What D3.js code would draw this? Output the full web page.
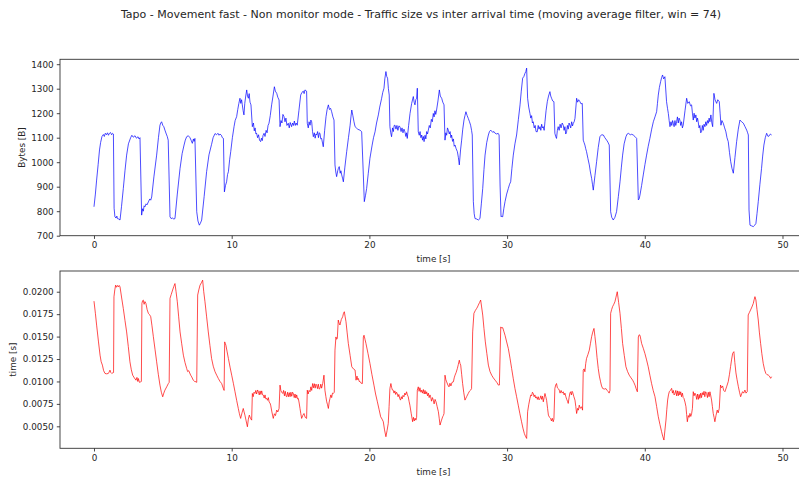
<!DOCTYPE html>
<html>
<head>
<meta charset="utf-8">
<script src="https://cdn.jsdelivr.net/npm/d3@7"></script>
<style>
  html, body { margin: 0; padding: 0; background: #fff; }
  svg { display: block; font-family: "DejaVu Sans", sans-serif; }
</style>
</head>
<body>
<svg id="chart" width="799" height="484"></svg>
<script>
// Moving-average traffic size: [time (s), bytes]
const bytesPoints = [[0.00,818],[0.10,870],[0.19,927],[0.30,990],[0.40,1050],[0.48,1080],[0.58,1105],[0.68,1113],[0.75,1105],[0.82,1118],[0.90,1112],[0.98,1120],[1.05,1110],[1.11,1117],[1.20,1121],[1.28,1112],[1.35,1118],[1.41,1115],[1.46,812],[1.52,777],[1.60,772],[1.66,780],[1.70,770],[1.80,768],[1.89,764],[2.00,820],[2.13,893],[2.25,965],[2.37,1029],[2.50,1075],[2.66,1100],[2.75,1110],[2.85,1102],[2.98,1108],[3.08,1098],[3.20,1104],[3.27,1095],[3.34,1100],[3.46,784],[3.52,810],[3.58,800],[3.64,822],[3.70,818],[3.78,830],[3.85,826],[3.95,838],[4.05,850],[4.12,845],[4.19,858],[4.35,940],[4.55,1029],[4.68,1100],[4.79,1151],[4.85,1160],[4.91,1165],[5.00,1150],[5.07,1145],[5.15,1131],[5.25,1115],[5.32,1105],[5.39,1090],[5.52,777],[5.60,770],[5.70,772],[5.80,768],[5.88,770],[6.05,870],[6.25,975],[6.40,1035],[6.54,1070],[6.63,1090],[6.73,1104],[6.85,1108],[6.97,1100],[7.05,1090],[7.14,1077],[7.22,1095],[7.27,1085],[7.33,1097],[7.46,798],[7.55,760],[7.65,743],[7.72,750],[7.82,764],[8.00,860],[8.18,962],[8.35,1030],[8.54,1073],[8.65,1100],[8.79,1117],[8.90,1112],[9.00,1118],[9.08,1110],[9.15,1115],[9.25,1110],[9.32,1100],[9.40,1097],[9.47,879],[9.55,905],[9.63,920],[9.70,950],[9.76,961],[9.85,1010],[9.93,1043],[10.05,1100],[10.17,1145],[10.25,1170],[10.36,1186],[10.44,1215],[10.52,1240],[10.60,1261],[10.66,1240],[10.72,1255],[10.77,1234],[10.83,1210],[10.89,1193],[10.95,1240],[11.02,1270],[11.09,1295],[11.15,1270],[11.21,1261],[11.27,1280],[11.33,1245],[11.40,1234],[11.50,1145],[11.58,1160],[11.64,1128],[11.70,1140],[11.76,1115],[11.81,1118],[11.88,1100],[11.95,1112],[12.02,1090],[12.10,1084],[12.16,1098],[12.22,1088],[12.28,1110],[12.35,1118],[12.42,1105],[12.50,1130],[12.57,1120],[12.64,1150],[12.71,1159],[12.80,1190],[12.90,1234],[13.00,1270],[13.10,1308],[13.17,1290],[13.27,1281],[13.35,1265],[13.44,1254],[13.51,1145],[13.58,1170],[13.65,1160],[13.72,1195],[13.80,1186],[13.87,1165],[13.94,1180],[14.01,1150],[14.11,1159],[14.18,1140],[14.25,1162],[14.35,1145],[14.42,1160],[14.49,1150],[14.55,1168],[14.62,1150],[14.68,1160],[14.76,1151],[14.88,1210],[15.01,1274],[15.10,1285],[15.20,1290],[15.26,1280],[15.32,1295],[15.44,1290],[15.49,1159],[15.56,1140],[15.62,1165],[15.69,1151],[15.75,1172],[15.81,1165],[15.87,1125],[15.93,1104],[16.00,1120],[16.06,1098],[16.12,1115],[16.17,1111],[16.24,1125],[16.30,1100],[16.36,1120],[16.41,1118],[16.47,1095],[16.53,1097],[16.65,1063],[16.75,1130],[16.85,1186],[16.93,1215],[17.02,1234],[17.10,1215],[17.18,1220],[17.26,1206],[17.35,1185],[17.43,1172],[17.50,989],[17.56,960],[17.62,941],[17.70,965],[17.75,975],[17.81,982],[17.88,955],[17.93,965],[17.99,948],[18.05,935],[18.11,920],[18.22,980],[18.35,1043],[18.48,1100],[18.60,1151],[18.66,1185],[18.72,1213],[18.80,1190],[18.88,1165],[18.96,1145],[19.05,1140],[19.15,1135],[19.25,1132],[19.32,1131],[19.38,1128],[19.44,1124],[19.56,948],[19.63,839],[19.72,865],[19.80,893],[19.92,955],[20.04,1016],[20.20,1070],[20.30,1100],[20.41,1124],[20.52,1160],[20.65,1193],[20.75,1225],[20.89,1261],[20.97,1285],[21.06,1302],[21.12,1340],[21.20,1370],[21.26,1350],[21.32,1343],[21.38,1300],[21.44,1274],[21.49,1145],[21.55,1120],[21.61,1104],[21.68,1140],[21.74,1125],[21.80,1150],[21.86,1151],[21.93,1135],[22.00,1150],[22.07,1130],[22.14,1148],[22.22,1145],[22.30,1125],[22.37,1140],[22.44,1120],[22.51,1135],[22.58,1124],[22.65,1105],[22.70,1120],[22.75,1097],[22.85,1150],[22.95,1199],[23.07,1240],[23.19,1268],[23.25,1245],[23.31,1234],[23.37,1255],[23.43,1261],[23.48,1302],[23.55,1124],[23.62,1110],[23.68,1125],[23.74,1100],[23.80,1111],[23.86,1090],[23.92,1105],[23.97,1084],[24.04,1110],[24.10,1095],[24.16,1125],[24.22,1115],[24.28,1131],[24.35,1150],[24.42,1140],[24.50,1175],[24.57,1165],[24.64,1199],[24.70,1185],[24.76,1210],[24.82,1195],[24.88,1213],[24.98,1250],[25.08,1295],[25.15,1270],[25.25,1261],[25.33,1245],[25.42,1234],[25.49,1090],[25.55,1120],[25.61,1110],[25.67,1140],[25.73,1131],[25.80,1115],[25.86,1125],[25.92,1100],[25.97,1111],[26.04,1085],[26.10,1095],[26.16,1065],[26.22,1070],[26.30,1055],[26.39,1043],[26.46,1020],[26.53,989],[26.62,1050],[26.70,1090],[26.78,1135],[26.87,1172],[26.94,1190],[27.01,1206],[27.10,1190],[27.18,1179],[27.27,1165],[27.35,1151],[27.42,1130],[27.47,1111],[27.55,839],[27.61,790],[27.67,770],[27.80,768],[27.91,764],[28.03,770],[28.13,830],[28.23,893],[28.32,970],[28.40,1029],[28.52,1080],[28.64,1111],[28.72,1125],[28.81,1131],[28.95,1122],[29.05,1125],[29.13,1118],[29.25,1115],[29.35,1118],[29.42,1111],[29.49,907],[29.56,777],[29.62,780],[29.68,777],[29.76,810],[29.85,839],[29.97,870],[30.09,893],[30.18,910],[30.26,920],[30.35,975],[30.45,1029],[30.57,1075],[30.69,1111],[30.82,1175],[30.94,1234],[31.03,1290],[31.13,1343],[31.22,1350],[31.30,1363],[31.36,1370],[31.42,1384],[31.49,1261],[31.57,1225],[31.66,1199],[31.72,1180],[31.78,1190],[31.84,1160],[31.90,1165],[31.97,1140],[32.04,1150],[32.10,1125],[32.19,1124],[32.26,1150],[32.32,1135],[32.39,1145],[32.45,1130],[32.51,1155],[32.57,1140],[32.63,1145],[32.69,1130],[32.75,1165],[32.83,1210],[32.92,1247],[33.01,1270],[33.11,1288],[33.17,1270],[33.23,1261],[33.31,1250],[33.40,1247],[33.47,1118],[33.53,1105],[33.59,1097],[33.65,1130],[33.71,1145],[33.78,1130],[33.85,1155],[33.92,1140],[34.00,1160],[34.08,1151],[34.14,1130],[34.20,1145],[34.26,1115],[34.32,1124],[34.38,1150],[34.44,1135],[34.50,1160],[34.56,1151],[34.62,1140],[34.69,1165],[34.75,1148],[34.81,1159],[34.87,1165],[34.93,1179],[35.05,1261],[35.12,1245],[35.20,1255],[35.29,1247],[35.37,1238],[35.46,1240],[35.53,1090],[35.59,1080],[35.65,1070],[35.71,1055],[35.77,1043],[35.87,1015],[35.97,989],[36.05,960],[36.14,934],[36.20,910],[36.26,886],[36.38,945],[36.50,1002],[36.62,1060],[36.74,1104],[36.86,1112],[36.99,1111],[37.10,1100],[37.23,1090],[37.32,1082],[37.42,1070],[37.52,798],[37.60,775],[37.71,764],[37.83,775],[37.95,798],[38.08,860],[38.20,920],[38.30,980],[38.39,1029],[38.50,1075],[38.63,1104],[38.72,1115],[38.80,1118],[38.95,1112],[39.05,1114],[39.16,1111],[39.28,1105],[39.41,1097],[39.53,846],[39.59,850],[39.65,866],[39.77,905],[39.89,948],[40.01,990],[40.13,1029],[40.25,1065],[40.37,1097],[40.50,1135],[40.62,1165],[40.74,1185],[40.86,1206],[40.92,1240],[40.98,1274],[41.06,1305],[41.15,1329],[41.22,1345],[41.29,1356],[41.37,1340],[41.46,1349],[41.58,1247],[41.65,1220],[41.71,1199],[41.77,1170],[41.83,1145],[41.90,1165],[41.96,1150],[42.02,1170],[42.07,1159],[42.13,1145],[42.19,1170],[42.25,1150],[42.31,1165],[42.37,1185],[42.43,1160],[42.49,1180],[42.55,1172],[42.61,1150],[42.67,1165],[42.73,1140],[42.79,1151],[42.92,1210],[43.04,1261],[43.12,1240],[43.23,1247],[43.32,1230],[43.40,1234],[43.46,1200],[43.52,1172],[43.58,1200],[43.64,1180],[43.71,1193],[43.77,1165],[43.83,1180],[43.88,1165],[43.94,1140],[44.00,1150],[44.06,1120],[44.12,1124],[44.18,1150],[44.24,1130],[44.30,1155],[44.37,1145],[44.43,1165],[44.49,1150],[44.55,1170],[44.61,1159],[44.67,1180],[44.73,1165],[44.80,1193],[44.87,1160],[44.93,1145],[45.02,1281],[45.10,1255],[45.22,1240],[45.30,1255],[45.41,1247],[45.47,1200],[45.53,1151],[45.60,1170],[45.70,1159],[45.80,1140],[45.89,1124],[45.97,1100],[46.06,1084],[46.15,1040],[46.24,1002],[46.33,975],[46.43,955],[46.55,1020],[46.67,1084],[46.79,1135],[46.91,1172],[47.03,1165],[47.16,1159],[47.28,1145],[47.40,1131],[47.47,1120],[47.52,1111],[47.57,805],[47.64,743],[47.76,740],[47.88,737],[47.97,742],[48.07,750],[48.15,790],[48.24,839],[48.36,910],[48.48,975],[48.56,1025],[48.65,1070],[48.75,1100],[48.85,1118],[48.95,1105],[49.04,1108],[49.12,1115],[49.21,1111]];

// Moving-average inter arrival time: [time (s), seconds]
const iatPoints = [[0.00,0.01895],[0.10,0.01760],[0.19,0.01628],[0.32,0.01450],[0.44,0.01293],[0.52,0.01220],[0.61,0.01182],[0.70,0.01120],[0.80,0.01089],[0.92,0.01085],[1.04,0.01089],[1.10,0.01105],[1.16,0.01126],[1.22,0.01100],[1.29,0.01089],[1.35,0.01095],[1.42,0.01100],[1.45,0.01943],[1.51,0.02020],[1.57,0.02073],[1.63,0.02050],[1.70,0.02070],[1.77,0.02054],[1.83,0.02070],[1.89,0.02054],[2.01,0.01930],[2.13,0.01812],[2.25,0.01680],[2.37,0.01552],[2.49,0.01390],[2.61,0.01219],[2.71,0.01130],[2.81,0.01070],[2.93,0.01040],[3.05,0.01014],[3.12,0.01045],[3.18,0.01000],[3.22,0.01033],[3.30,0.00990],[3.39,0.00996],[3.44,0.01000],[3.48,0.01870],[3.53,0.01900],[3.58,0.01907],[3.64,0.01860],[3.70,0.01890],[3.77,0.01870],[3.86,0.01800],[3.95,0.01759],[4.03,0.01745],[4.12,0.01722],[4.21,0.01620],[4.31,0.01499],[4.43,0.01360],[4.55,0.01219],[4.67,0.01080],[4.79,0.00959],[4.89,0.00880],[4.99,0.00829],[5.07,0.00870],[5.15,0.00903],[5.28,0.00940],[5.40,0.00977],[5.46,0.00990],[5.52,0.01926],[5.61,0.01970],[5.71,0.02019],[5.80,0.02060],[5.88,0.02091],[5.96,0.02000],[6.05,0.01888],[6.15,0.01720],[6.25,0.01552],[6.37,0.01420],[6.49,0.01293],[6.61,0.01210],[6.73,0.01145],[6.80,0.01110],[6.88,0.01120],[7.02,0.01070],[7.10,0.01050],[7.21,0.01014],[7.31,0.01000],[7.41,0.00996],[7.46,0.00990],[7.53,0.01963],[7.61,0.02020],[7.70,0.02073],[7.80,0.02100],[7.89,0.02129],[7.97,0.02000],[8.06,0.01888],[8.18,0.01720],[8.30,0.01552],[8.42,0.01400],[8.54,0.01256],[8.66,0.01170],[8.79,0.01108],[8.91,0.01070],[9.03,0.01033],[9.15,0.01000],[9.27,0.00977],[9.33,0.00950],[9.39,0.00922],[9.45,0.00900],[9.49,0.01441],[9.54,0.01420],[9.58,0.01403],[9.67,0.01330],[9.76,0.01256],[9.88,0.01160],[10.00,0.01070],[10.12,0.00980],[10.24,0.00885],[10.36,0.00790],[10.48,0.00699],[10.56,0.00640],[10.65,0.00588],[10.75,0.00650],[10.84,0.00699],[10.90,0.00660],[10.96,0.00625],[11.05,0.00560],[11.14,0.00495],[11.21,0.00580],[11.28,0.00625],[11.36,0.00590],[11.45,0.00569],[11.50,0.00866],[11.56,0.00830],[11.62,0.00880],[11.69,0.00866],[11.75,0.00900],[11.81,0.00860],[11.88,0.00905],[11.94,0.00885],[12.00,0.00850],[12.06,0.00895],[12.12,0.00855],[12.18,0.00895],[12.24,0.00850],[12.30,0.00848],[12.36,0.00815],[12.42,0.00850],[12.48,0.00805],[12.54,0.00811],[12.60,0.00790],[12.66,0.00820],[12.72,0.00770],[12.78,0.00760],[12.83,0.00736],[12.92,0.00660],[13.02,0.00588],[13.10,0.00640],[13.18,0.00620],[13.27,0.00681],[13.35,0.00660],[13.44,0.00699],[13.51,0.00959],[13.57,0.00900],[13.63,0.00880],[13.71,0.00866],[13.77,0.00900],[13.83,0.00840],[13.89,0.00890],[13.95,0.00835],[14.00,0.00829],[14.06,0.00880],[14.12,0.00830],[14.18,0.00875],[14.24,0.00830],[14.30,0.00880],[14.36,0.00835],[14.42,0.00880],[14.48,0.00866],[14.54,0.00820],[14.60,0.00860],[14.66,0.00815],[14.72,0.00850],[14.78,0.00805],[14.84,0.00811],[14.90,0.00760],[14.96,0.00700],[15.02,0.00640],[15.08,0.00588],[15.16,0.00620],[15.25,0.00643],[15.34,0.00600],[15.44,0.00588],[15.49,0.00903],[15.55,0.00860],[15.62,0.00900],[15.69,0.00885],[15.75,0.00940],[15.81,0.00900],[15.88,0.00977],[15.94,0.00930],[16.00,0.00975],[16.06,0.00925],[16.12,0.00970],[16.17,0.00959],[16.23,0.00920],[16.29,0.00970],[16.35,0.00915],[16.41,0.00922],[16.47,0.00970],[16.53,0.00925],[16.61,0.00977],[16.70,0.01070],[16.77,0.00903],[16.84,0.00830],[16.90,0.00773],[16.96,0.00740],[17.02,0.00699],[17.08,0.00770],[17.14,0.00811],[17.20,0.00850],[17.26,0.00820],[17.32,0.00870],[17.38,0.00866],[17.45,0.00880],[17.50,0.01349],[17.57,0.01496],[17.62,0.01470],[17.67,0.01480],[17.74,0.01684],[17.80,0.01650],[17.86,0.01629],[17.96,0.01690],[18.06,0.01721],[18.12,0.01760],[18.18,0.01777],[18.24,0.01720],[18.30,0.01666],[18.38,0.01550],[18.47,0.01424],[18.60,0.01290],[18.72,0.01164],[18.84,0.01140],[18.96,0.01127],[19.00,0.01060],[19.03,0.01014],[19.10,0.01060],[19.15,0.01020],[19.20,0.01033],[19.26,0.01000],[19.32,0.01000],[19.40,0.00980],[19.49,0.00977],[19.56,0.01496],[19.61,0.01515],[19.68,0.01470],[19.75,0.01424],[19.90,0.01310],[20.04,0.01201],[20.18,0.01080],[20.33,0.00959],[20.45,0.00860],[20.58,0.00773],[20.70,0.00690],[20.82,0.00606],[20.92,0.00580],[21.01,0.00551],[21.10,0.00460],[21.20,0.00384],[21.28,0.00450],[21.37,0.00532],[21.43,0.00720],[21.49,0.00922],[21.56,0.00977],[21.62,0.00930],[21.67,0.00905],[21.73,0.00903],[21.79,0.00870],[21.85,0.00895],[21.91,0.00855],[21.97,0.00880],[22.02,0.00866],[22.08,0.00830],[22.14,0.00855],[22.20,0.00810],[22.26,0.00792],[22.32,0.00830],[22.38,0.00805],[22.44,0.00845],[22.51,0.00829],[22.57,0.00870],[22.63,0.00850],[22.70,0.00885],[22.76,0.00850],[22.82,0.00829],[22.88,0.00780],[22.94,0.00736],[23.04,0.00640],[23.14,0.00551],[23.20,0.00600],[23.26,0.00560],[23.32,0.00590],[23.38,0.00569],[23.43,0.00600],[23.48,0.00903],[23.55,0.00940],[23.61,0.00890],[23.67,0.00930],[23.74,0.00880],[23.80,0.00903],[23.86,0.00870],[23.92,0.00910],[23.98,0.00860],[24.04,0.00900],[24.10,0.00860],[24.16,0.00885],[24.22,0.00840],[24.28,0.00870],[24.34,0.00820],[24.40,0.00850],[24.45,0.00829],[24.51,0.00780],[24.58,0.00820],[24.64,0.00792],[24.70,0.00750],[24.77,0.00800],[24.84,0.00773],[24.92,0.00720],[25.01,0.00662],[25.07,0.00590],[25.13,0.00514],[25.22,0.00560],[25.32,0.00606],[25.37,0.00620],[25.42,0.00643],[25.49,0.01070],[25.55,0.01020],[25.61,0.00996],[25.70,0.00960],[25.78,0.00940],[25.85,0.00980],[25.92,0.00950],[26.00,0.00990],[26.10,0.00996],[26.16,0.01040],[26.22,0.01070],[26.30,0.01100],[26.39,0.01145],[26.46,0.01190],[26.53,0.01237],[26.58,0.01200],[26.63,0.01182],[26.70,0.01080],[26.77,0.00977],[26.85,0.00880],[26.94,0.00792],[27.06,0.00830],[27.18,0.00866],[27.26,0.00890],[27.35,0.00903],[27.42,0.00920],[27.50,0.01552],[27.59,0.01759],[27.69,0.01790],[27.79,0.01814],[27.85,0.01830],[27.91,0.01851],[28.00,0.01880],[28.08,0.01907],[28.15,0.01830],[28.23,0.01740],[28.32,0.01590],[28.42,0.01441],[28.53,0.01310],[28.64,0.01182],[28.76,0.01110],[28.88,0.01070],[29.00,0.01040],[29.13,0.01014],[29.25,0.00990],[29.37,0.00959],[29.44,0.00960],[29.54,0.01608],[29.61,0.01595],[29.68,0.01600],[29.76,0.01560],[29.85,0.01515],[29.97,0.01440],[30.09,0.01366],[30.21,0.01260],[30.33,0.01145],[30.45,0.01030],[30.57,0.00922],[30.69,0.00830],[30.81,0.00736],[30.93,0.00640],[31.05,0.00551],[31.15,0.00480],[31.25,0.00421],[31.33,0.00390],[31.42,0.00365],[31.49,0.00662],[31.57,0.00740],[31.66,0.00811],[31.72,0.00850],[31.78,0.00840],[31.84,0.00880],[31.90,0.00866],[31.96,0.00830],[32.02,0.00850],[32.08,0.00815],[32.14,0.00829],[32.20,0.00800],[32.26,0.00830],[32.32,0.00795],[32.39,0.00811],[32.45,0.00840],[32.51,0.00800],[32.57,0.00835],[32.63,0.00773],[32.69,0.00820],[32.75,0.00866],[32.81,0.00830],[32.87,0.00790],[32.94,0.00700],[33.00,0.00625],[33.08,0.00600],[33.16,0.00588],[33.22,0.00560],[33.28,0.00590],[33.35,0.00551],[33.40,0.00580],[33.47,0.00922],[33.53,0.00960],[33.59,0.00977],[33.65,0.00930],[33.72,0.00920],[33.79,0.00903],[33.85,0.00870],[33.92,0.00900],[34.00,0.00870],[34.08,0.00885],[34.14,0.00850],[34.20,0.00870],[34.27,0.00829],[34.33,0.00800],[34.39,0.00780],[34.44,0.00755],[34.50,0.00820],[34.56,0.00870],[34.61,0.00885],[34.67,0.00850],[34.72,0.00890],[34.76,0.00880],[34.85,0.00830],[34.93,0.00792],[34.99,0.00720],[35.05,0.00643],[35.12,0.00700],[35.18,0.00680],[35.24,0.00736],[35.32,0.00700],[35.41,0.00718],[35.48,0.00680],[35.53,0.01126],[35.59,0.01140],[35.65,0.01108],[35.71,0.01200],[35.77,0.01256],[35.87,0.01300],[35.97,0.01349],[36.05,0.01420],[36.14,0.01499],[36.22,0.01550],[36.31,0.01591],[36.38,0.01500],[36.45,0.01405],[36.53,0.01270],[36.62,0.01145],[36.70,0.01060],[36.79,0.00996],[36.86,0.00950],[36.94,0.00922],[37.06,0.00915],[37.18,0.00920],[37.27,0.00900],[37.35,0.00885],[37.41,0.00870],[37.47,0.00900],[37.52,0.01759],[37.59,0.01800],[37.66,0.01833],[37.75,0.01860],[37.83,0.01888],[37.91,0.01940],[38.00,0.02000],[38.10,0.01880],[38.20,0.01759],[38.30,0.01590],[38.39,0.01424],[38.51,0.01290],[38.63,0.01164],[38.75,0.01110],[38.87,0.01070],[39.00,0.01040],[39.12,0.01014],[39.20,0.00990],[39.29,0.00959],[39.37,0.00920],[39.46,0.00885],[39.53,0.01496],[39.59,0.01520],[39.65,0.01515],[39.71,0.01470],[39.77,0.01424],[39.89,0.01370],[40.01,0.01311],[40.13,0.01240],[40.25,0.01164],[40.37,0.01070],[40.49,0.00979],[40.61,0.00900],[40.74,0.00830],[40.86,0.00720],[40.98,0.00607],[41.10,0.00520],[41.22,0.00440],[41.30,0.00390],[41.39,0.00347],[41.47,0.00470],[41.54,0.00570],[41.60,0.00690],[41.66,0.00793],[41.72,0.00850],[41.78,0.00886],[41.86,0.00900],[41.95,0.00923],[42.01,0.00870],[42.07,0.00900],[42.13,0.00850],[42.19,0.00867],[42.25,0.00900],[42.31,0.00840],[42.37,0.00895],[42.43,0.00840],[42.49,0.00890],[42.55,0.00849],[42.61,0.00885],[42.67,0.00830],[42.73,0.00870],[42.79,0.00820],[42.84,0.00812],[42.92,0.00770],[42.99,0.00719],[43.04,0.00630],[43.09,0.00551],[43.16,0.00620],[43.22,0.00600],[43.28,0.00644],[43.34,0.00610],[43.40,0.00640],[43.46,0.00700],[43.52,0.00886],[43.58,0.00840],[43.64,0.00870],[43.71,0.00849],[43.77,0.00800],[43.83,0.00860],[43.89,0.00800],[43.95,0.00855],[44.00,0.00812],[44.06,0.00870],[44.12,0.00820],[44.18,0.00875],[44.24,0.00849],[44.30,0.00890],[44.36,0.00830],[44.42,0.00885],[44.49,0.00867],[44.55,0.00820],[44.61,0.00880],[44.67,0.00830],[44.73,0.00885],[44.78,0.00849],[44.85,0.00793],[44.91,0.00720],[44.97,0.00644],[45.03,0.00600],[45.09,0.00551],[45.17,0.00620],[45.26,0.00681],[45.33,0.00650],[45.41,0.00700],[45.50,0.00960],[45.57,0.00930],[45.65,0.00950],[45.73,0.00900],[45.82,0.00886],[45.94,0.00940],[46.06,0.00998],[46.15,0.01080],[46.23,0.01165],[46.30,0.01240],[46.38,0.01313],[46.47,0.01332],[46.54,0.01210],[46.62,0.01095],[46.70,0.01020],[46.79,0.00946],[46.88,0.00880],[46.96,0.00830],[47.03,0.00860],[47.10,0.00886],[47.18,0.00870],[47.27,0.00904],[47.35,0.00870],[47.44,0.00886],[47.51,0.01741],[47.60,0.01770],[47.68,0.01796],[47.78,0.01830],[47.88,0.01870],[47.94,0.01910],[48.00,0.01945],[48.07,0.01908],[48.15,0.01800],[48.24,0.01685],[48.32,0.01550],[48.41,0.01425],[48.50,0.01310],[48.60,0.01202],[48.70,0.01130],[48.79,0.01090],[48.88,0.01075],[48.96,0.01072],[49.05,0.01060],[49.14,0.01035],[49.21,0.01053]];

// Axis ticks
const xTicks = [0, 10, 20, 30, 40, 50];
const bytesTicks = [700, 800, 900, 1000, 1100, 1200, 1300, 1400];
const iatTicks = [0.0050, 0.0075, 0.0100, 0.0125, 0.0150, 0.0175, 0.0200];

const titleText = "Tapo - Movement fast - Non monitor mode - Traffic size vs inter arrival time (moving average filter, win = 74)";

const svg = d3.select("#chart");
const FS = 8.8;
const ink = "#262626";

svg.append("text")
  .attr("x", 421).attr("y", 18)
  .attr("text-anchor", "middle")
  .attr("font-size", 11)
  .attr("fill", ink)
  .text(titleText);

function panel(cfg) {
  const { left, right, top, bottom, xDomain, yDomain, yTicks, yFormat, points, color, yLabel, yLabelX } = cfg;
  const x = d3.scaleLinear().domain(xDomain).range([left, right]);
  const y = d3.scaleLinear().domain(yDomain).range([bottom, top]);
  const g = svg.append("g");

  // data line
  const line = d3.line().x(d => x(d[0])).y(d => y(d[1]));
  g.append("path")
    .datum(points)
    .attr("d", line)
    .attr("fill", "none")
    .attr("stroke", color)
    .attr("stroke-width", 0.7)
    .attr("stroke-linejoin", "round");

  // frame
  g.append("rect")
    .attr("x", left).attr("y", top)
    .attr("width", right - left).attr("height", bottom - top)
    .attr("fill", "none").attr("stroke", "#333").attr("stroke-width", 0.9);

  // x axis
  const xa = g.append("g").attr("transform", `translate(0,${bottom})`)
    .call(d3.axisBottom(x).tickValues(xTicks).tickSize(3.2).tickPadding(3.2).tickFormat(d3.format("d")));
  xa.select(".domain").remove();
  xa.selectAll("line").attr("stroke", "#333").attr("stroke-width", 0.9);
  xa.selectAll("text").attr("font-size", FS).attr("fill", ink).attr("font-family", "DejaVu Sans");

  // y axis
  const ya = g.append("g").attr("transform", `translate(${left},0)`)
    .call(d3.axisLeft(y).tickValues(yTicks).tickSize(3.2).tickPadding(3.2).tickFormat(yFormat));
  ya.select(".domain").remove();
  ya.selectAll("line").attr("stroke", "#333").attr("stroke-width", 0.9);
  ya.selectAll("text").attr("font-size", FS).attr("fill", ink).attr("font-family", "DejaVu Sans");

  // axis labels
  g.append("text")
    .attr("x", (left + right) / 2).attr("y", bottom + 26.5)
    .attr("text-anchor", "middle").attr("font-size", FS).attr("fill", ink)
    .text("time [s]");
  g.append("text")
    .attr("transform", `translate(${yLabelX},${(top + bottom) / 2}) rotate(-90)`)
    .attr("text-anchor", "middle").attr("dy", "0.35em")
    .attr("font-size", FS).attr("fill", ink)
    .text(yLabel);
}

panel({
  left: 60, right: 807, top: 59.3, bottom: 235.7,
  xDomain: [-2.469, 51.78], yDomain: [700, 1420],
  yTicks: bytesTicks, yFormat: d3.format("d"),
  points: bytesPoints, color: "#0000ff",
  yLabel: "Bytes [B]", yLabelX: 22
});

panel({
  left: 60, right: 807, top: 271, bottom: 448.3,
  xDomain: [-2.469, 51.78], yDomain: [0.00255, 0.02231],
  yTicks: iatTicks, yFormat: d3.format(".4f"),
  points: iatPoints, color: "#ff0000",
  yLabel: "time [s]", yLabelX: 12.5
});
</script>
</body>
</html>
